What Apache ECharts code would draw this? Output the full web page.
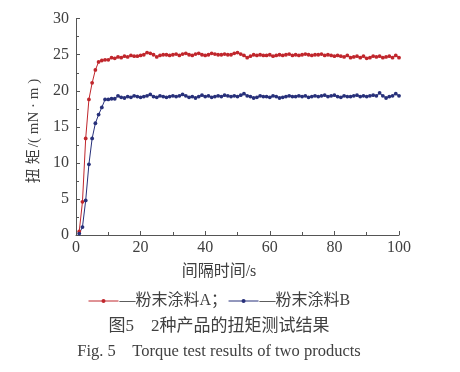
<!DOCTYPE html>
<html><head><meta charset="utf-8">
<script src="https://cdn.jsdelivr.net/npm/echarts@6/dist/echarts.min.js"></script>
<style>html,body{margin:0;padding:0;background:#fff}#c{width:460px;height:372px}</style>
</head><body><div id="c"></div>
<script>
const times = [1,2,3,4,5,6,7,8,9,10,11,12,13,14,15,16,17,18,19,20,21,22,23,24,25,26,27,28,29,30,31,32,33,34,35,36,37,38,39,40,41,42,43,44,45,46,47,48,49,50,51,52,53,54,55,56,57,58,59,60,61,62,63,64,65,66,67,68,69,70,71,72,73,74,75,76,77,78,79,80,81,82,83,84,85,86,87,88,89,90,91,92,93,94,95,96,97,98,99,100];
const seriesA = [0.5,4.6,13.4,18.8,21.1,22.9,24.0,24.2,24.3,24.3,
24.6,24.5,24.7,24.6,24.8,24.7,24.9,24.8,24.8,24.9,
25.0,25.3,25.2,25.0,24.7,24.9,25.0,25.0,24.9,25.0,
25.1,24.9,25.1,25.2,25.0,24.9,25.1,25.2,25.0,24.9,
25.0,25.2,25.1,25.0,25.0,25.1,25.0,25.0,25.2,25.3,
25.1,24.9,24.6,24.8,25.0,24.9,25.0,24.9,24.9,25.0,
24.8,24.9,25.0,24.9,25.0,25.1,24.9,25.0,24.9,25.0,
25.1,25.0,24.9,25.0,25.0,25.1,24.9,25.0,24.9,24.8,
24.9,24.8,24.7,24.9,24.6,24.7,24.8,24.6,24.8,24.5,
24.6,24.8,24.7,24.8,24.6,24.7,24.8,24.6,24.9,24.6];
const seriesB = [0.2,1.1,4.8,9.8,13.4,15.5,16.7,17.7,18.8,18.8,
18.9,18.9,19.3,19.1,19.0,19.2,19.1,19.3,19.2,19.1,
19.2,19.3,19.5,19.2,19.1,19.3,19.2,19.1,19.2,19.3,
19.2,19.3,19.5,19.3,19.1,19.2,19.0,19.2,19.4,19.2,
19.3,19.1,19.2,19.3,19.2,19.4,19.3,19.2,19.3,19.2,
19.4,19.6,19.3,19.2,19.0,19.1,19.3,19.2,19.2,19.1,
19.3,19.2,19.0,19.1,19.2,19.3,19.2,19.2,19.3,19.2,
19.3,19.1,19.2,19.3,19.2,19.3,19.4,19.2,19.3,19.4,
19.2,19.1,19.3,19.2,19.2,19.3,19.4,19.2,19.3,19.2,
19.3,19.4,19.3,19.7,19.3,19.0,19.2,19.3,19.6,19.3];
const nameA = '—粉末涂料A；';
const nameB = '—粉末涂料B';
const xTitle = '间隔时间/s';
const yTitleCN = '扭矩';
const yTitleUnit = '/( mN · m )';
const captionCN = '图5　2种产品的扭矩测试结果';
const captionEN = 'Fig. 5    Torque test results of two products';

const mixed = '"Liberation Serif","Noto Sans CJK SC",serif';
const axisCol = '#555';
const txtCol = '#404040';

const chart = echarts.init(document.getElementById('c'), null, {renderer:'canvas'});
const pair = arr => times.map((t,i)=>[t, arr[i]]);
const yRich = yTitleCN.split('').map(ch=>'{c|'+ch+'}').join('') + '{e|'+yTitleUnit+'}';
chart.setOption({
  animation:false,
  backgroundColor:'#fff',
  grid:{left:76, right:61, top:18.7, bottom:137, containLabel:false},
  xAxis:{type:'value', min:0, max:100, interval:20,
    axisLine:{lineStyle:{color:axisCol, width:1}},
    axisTick:{inside:true, length:4, lineStyle:{color:axisCol}},
    minorTick:{show:true, splitNumber:2, length:3, lineStyle:{color:axisCol}},
    axisLabel:{fontFamily:mixed, fontSize:16, color:txtCol, margin:5},
    splitLine:{show:false}},
  yAxis:{type:'value', min:0, max:30, interval:5,
    axisLine:{show:true, lineStyle:{color:axisCol, width:1}},
    axisTick:{show:true, inside:true, length:4, lineStyle:{color:axisCol}},
    minorTick:{show:true, splitNumber:2, length:3, lineStyle:{color:axisCol}},
    axisLabel:{fontFamily:mixed, fontSize:16, color:txtCol, margin:7},
    splitLine:{show:false}},
  legend:{left:83, top:288, itemWidth:30, itemHeight:5, itemGap:1,
    lineStyle:{width:1},
    textStyle:{fontFamily:mixed, fontSize:16, color:txtCol, padding:[0,0,0,-4]},
    data:[nameA, nameB]},
  series:[
    {name:nameA, type:'line', data:pair(seriesA), symbol:'circle', symbolSize:3.8,
      color:'#c0262c', lineStyle:{width:1, color:'#c0262c'}, itemStyle:{color:'#c0262c'}},
    {name:nameB, type:'line', data:pair(seriesB), symbol:'circle', symbolSize:3.8,
      color:'#27307a', lineStyle:{width:1, color:'#27307a'}, itemStyle:{color:'#27307a'}}
  ],
  graphic:[
    {type:'text', x:34, y:132, rotation:Math.PI/2,
      style:{text:yRich, align:'center', verticalAlign:'middle', fill:txtCol,
        rich:{c:{fontFamily:mixed, fontSize:15, fill:txtCol, padding:[0,2]},
              e:{fontFamily:mixed, fontSize:15, fill:txtCol}}}},
    {type:'text', x:219, y:272, style:{text:xTitle, align:'center', verticalAlign:'middle', font:'16px '+mixed, fill:txtCol}},
    {type:'text', x:219, y:327, style:{text:captionCN, align:'center', verticalAlign:'middle', font:'17px '+mixed, fill:txtCol}},
    {type:'text', x:219, y:352, style:{text:captionEN, align:'center', verticalAlign:'middle', font:'16.5px '+mixed, fill:txtCol}}
  ]
});
</script></body></html>
